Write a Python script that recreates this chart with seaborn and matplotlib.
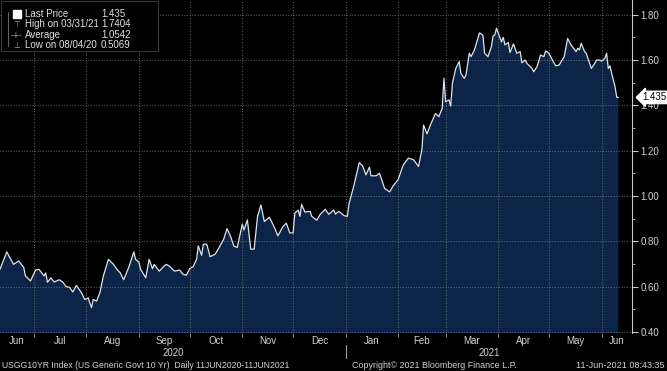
import pandas as pd
import matplotlib
matplotlib.use('Agg')
import matplotlib.pyplot as plt
import matplotlib.dates as mdates
import matplotlib.transforms as mtransforms
from matplotlib.patches import Rectangle
from matplotlib.ticker import MultipleLocator, FixedLocator, NullFormatter
import seaborn as sns

dates = [
    '2020-06-11', '2020-06-15', '2020-06-19', '2020-06-22', '2020-06-25', '2020-06-26', '2020-06-29',
    '2020-07-02', '2020-07-04', '2020-07-07', '2020-07-08', '2020-07-09', '2020-07-11', '2020-07-13',
    '2020-07-16', '2020-07-18', '2020-07-20', '2020-07-22', '2020-07-24', '2020-07-26', '2020-07-29',
    '2020-07-31', '2020-08-02', '2020-08-04', '2020-08-05', '2020-08-07', '2020-08-09', '2020-08-11',
    '2020-08-14', '2020-08-17', '2020-08-19', '2020-08-21', '2020-08-23', '2020-08-26', '2020-08-29',
    '2020-08-30', '2020-09-01', '2020-09-02', '2020-09-05', '2020-09-07', '2020-09-09', '2020-09-10',
    '2020-09-13', '2020-09-15', '2020-09-17', '2020-09-19', '2020-09-22', '2020-09-25', '2020-09-27',
    '2020-09-29', '2020-10-01', '2020-10-03', '2020-10-05', '2020-10-06', '2020-10-08', '2020-10-09',
    '2020-10-11', '2020-10-13', '2020-10-16', '2020-10-18', '2020-10-21', '2020-10-23', '2020-10-25',
    '2020-10-27', '2020-10-29', '2020-11-01', '2020-11-02', '2020-11-04', '2020-11-06', '2020-11-08',
    '2020-11-10', '2020-11-12', '2020-11-14', '2020-11-17', '2020-11-20', '2020-11-22', '2020-11-25',
    '2020-11-27', '2020-11-29', '2020-12-01', '2020-12-02', '2020-12-04', '2020-12-05', '2020-12-06',
    '2020-12-08', '2020-12-11', '2020-12-12', '2020-12-15', '2020-12-17', '2020-12-20', '2020-12-22',
    '2020-12-25', '2020-12-26', '2020-12-28', '2020-12-31', '2021-01-02', '2021-01-03', '2021-01-06',
    '2021-01-09', '2021-01-11', '2021-01-13', '2021-01-15', '2021-01-16', '2021-01-19', '2021-01-21',
    '2021-01-24', '2021-01-27', '2021-01-29', '2021-02-01', '2021-02-04', '2021-02-07', '2021-02-10',
    '2021-02-13', '2021-02-15', '2021-02-16', '2021-02-18', '2021-02-20', '2021-02-23', '2021-02-25',
    '2021-02-27', '2021-02-28', '2021-03-01', '2021-03-03', '2021-03-04', '2021-03-05', '2021-03-07',
    '2021-03-09', '2021-03-10', '2021-03-12', '2021-03-13', '2021-03-15', '2021-03-16', '2021-03-18',
    '2021-03-21', '2021-03-23', '2021-03-24', '2021-03-26', '2021-03-28', '2021-03-29', '2021-03-30',
    '2021-03-31', '2021-04-03', '2021-04-04', '2021-04-05', '2021-04-07', '2021-04-08', '2021-04-10',
    '2021-04-12', '2021-04-14', '2021-04-15', '2021-04-17', '2021-04-18', '2021-04-21', '2021-04-22',
    '2021-04-24', '2021-04-26', '2021-04-28', '2021-04-29', '2021-05-01', '2021-05-03', '2021-05-05',
    '2021-05-07', '2021-05-10', '2021-05-12', '2021-05-14', '2021-05-17', '2021-05-18', '2021-05-19',
    '2021-05-20', '2021-05-22', '2021-05-23', '2021-05-26', '2021-05-28', '2021-05-29', '2021-05-31',
    '2021-06-01', '2021-06-03', '2021-06-04', '2021-06-05', '2021-06-06', '2021-06-07', '2021-06-09',
    '2021-06-10', '2021-06-11',
]
yields = [
    0.676, 0.753, 0.698, 0.713, 0.685, 0.647, 0.625,
    0.673, 0.676, 0.647, 0.660, 0.619, 0.638, 0.620,
    0.630, 0.620, 0.600, 0.597, 0.576, 0.605, 0.574,
    0.543, 0.550, 0.5069, 0.543, 0.536, 0.574, 0.647,
    0.720, 0.698, 0.676, 0.660, 0.630, 0.685, 0.753,
    0.720, 0.707, 0.676, 0.639, 0.720, 0.679, 0.698,
    0.668, 0.684, 0.698, 0.690, 0.668, 0.673, 0.654,
    0.650, 0.679, 0.688, 0.720, 0.780, 0.738, 0.787,
    0.787, 0.732, 0.743, 0.768, 0.809, 0.856, 0.823,
    0.779, 0.772, 0.875, 0.850, 0.894, 0.765, 0.765,
    0.910, 0.960, 0.887, 0.906, 0.860, 0.824, 0.865,
    0.880, 0.837, 0.837, 0.925, 0.937, 0.910, 0.963,
    0.929, 0.932, 0.910, 0.893, 0.919, 0.941, 0.919,
    0.938, 0.920, 0.932, 0.913, 0.910, 0.966, 1.050,
    1.147, 1.133, 1.093, 1.127, 1.089, 1.089, 1.100,
    1.033, 1.018, 1.044, 1.073, 1.137, 1.167, 1.160,
    1.130, 1.205, 1.313, 1.274, 1.313, 1.364, 1.350,
    1.387, 1.520, 1.416, 1.424, 1.397, 1.497, 1.563,
    1.593, 1.541, 1.519, 1.534, 1.630, 1.615, 1.644,
    1.720, 1.710, 1.630, 1.615, 1.659, 1.706, 1.710,
    1.7404, 1.680, 1.700, 1.667, 1.677, 1.633, 1.671,
    1.630, 1.637, 1.588, 1.600, 1.585, 1.563, 1.548,
    1.571, 1.622, 1.615, 1.640, 1.630, 1.600, 1.574,
    1.578, 1.615, 1.695, 1.667, 1.637, 1.652, 1.645,
    1.674, 1.637, 1.630, 1.563, 1.585, 1.600, 1.600,
    1.595, 1.607, 1.630, 1.563, 1.574, 1.541, 1.482,
    1.435, 1.435,
]

month_labels = ['Jun', 'Jul', 'Aug', 'Sep', 'Oct', 'Nov', 'Dec',
                'Jan', 'Feb', 'Mar', 'Apr', 'May', 'Jun']
year_labels = ['2020', '2021']
legend_names = ['Last Price', 'High on 03/31/21', 'Average', 'Low on 08/04/20']
legend_values = ['1.435', '1.7404', '1.0542', '0.5069']
last_price = 1.435
footer_left = 'USGG10YR Index (US Generic Govt 10 Yr)  Daily 11JUN2020-11JUN2021'
footer_mid = 'Copyright\u00a9 2021 Bloomberg Finance L.P.'
footer_right = '11-Jun-2021 08:43:35'

df = pd.DataFrame({'date': pd.to_datetime(dates), 'yield': yields})

x_start = pd.Timestamp('2020-06-11')
x_end = pd.Timestamp('2021-06-19')
txt = '#d2d2d2'
navy = '#0c2447'

sns.set_style('dark', {'axes.facecolor': 'black', 'figure.facecolor': 'black'})
plt.rcParams['font.family'] = ['Liberation Sans', 'DejaVu Sans']

fig = plt.figure(figsize=(6.67, 3.71), dpi=100, facecolor='black')
ax = fig.add_axes([0.0, 1 - 333 / 371, 632 / 667, 333 / 371])
ax.set_facecolor('black')

ax.fill_between(df['date'], df['yield'], 0, color=navy, linewidth=0, zorder=1)
sns.lineplot(data=df, x='date', y='yield', ax=ax, color='#dde3ea', linewidth=0.9, zorder=3)

ax.set_xlim(x_start, x_end)
ax.set_ylim(0.395, 1.865)
ax.set_xlabel('')
ax.set_ylabel('')

# y axis on the right
ax.yaxis.tick_right()
ax.yaxis.set_major_locator(MultipleLocator(0.2))
ax.yaxis.set_minor_locator(MultipleLocator(0.1))
ax.yaxis.set_major_formatter(matplotlib.ticker.FormatStrFormatter('%.2f'))
ax.tick_params(axis='y', which='major', colors='#c8c8c8', labelcolor=txt, labelsize=7,
               length=4, width=0.8, pad=2, right=True, left=False)
ax.tick_params(axis='y', which='minor', colors='#c8c8c8', length=2, width=0.6, right=True, left=False)

# x axis: gridlines / ticks at month starts, labels centred in each month
ax.xaxis.set_major_locator(mdates.MonthLocator(bymonthday=1))
ax.xaxis.set_major_formatter(NullFormatter())
month_starts = pd.date_range('2020-06-01', '2021-07-01', freq='MS')
centers = []
for s, e in zip(month_starts[:-1], month_starts[1:]):
    a, b = max(s, x_start), min(e, x_end)
    centers.append(a + (b - a) / 2)
ax.xaxis.set_minor_locator(FixedLocator(mdates.date2num(centers)))
ax.xaxis.set_minor_formatter(matplotlib.ticker.FixedFormatter(month_labels))
ax.tick_params(axis='x', which='major', colors='#9a9a9a', length=3, width=0.6, bottom=True)
ax.tick_params(axis='x', which='minor', length=0, labelsize=7, labelcolor=txt, pad=2.5, bottom=True)

ax.grid(True, which='major', color='#8a8a8a', linestyle=(0, (1, 2.2)), linewidth=0.6)
ax.grid(False, which='minor')
ax.set_axisbelow(False)

for side in ['left', 'top', 'bottom']:
    ax.spines[side].set_visible(False)
ax.spines['right'].set_color('#c8c8c8')
ax.spines['right'].set_linewidth(0.8)

# year labels and separator
trans = mtransforms.blended_transform_factory(ax.transData, ax.transAxes)
year_break = pd.Timestamp('2021-01-01')
year_spans = [(x_start, year_break), (year_break, x_end)]
for lab, (a, b) in zip(year_labels, year_spans):
    ax.text(a + (b - a) / 2, -0.06, lab, transform=trans, ha='center', va='center',
            fontsize=7, color=txt)
ax.plot([year_break, year_break], [-0.036, -0.075], transform=trans, color='#9a9a9a',
        linewidth=0.8, clip_on=False)

# last price tag
trans_y = mtransforms.blended_transform_factory(ax.transAxes, ax.transData)
ax.text(1.017, last_price, legend_values[0], transform=trans_y, ha='left', va='center',
        fontsize=7, color='black',
        bbox=dict(boxstyle='larrow,pad=0.12', fc='white', ec='white'))

# legend box top-left
fig.patches.append(Rectangle((0.002, 1 - 51 / 371), 157 / 667, 50 / 371, transform=fig.transFigure,
                             facecolor='black', edgecolor='#444444', linewidth=0.6, zorder=5))
row_y = [14, 24, 35, 45]
symbols = ['', '\u22a4', '-+-', '\u22a5']
fig.patches.append(Rectangle((13 / 667, 1 - 18 / 371), 8 / 667, 8 / 371, transform=fig.transFigure,
                             facecolor='white', edgecolor='white', zorder=6))
fig.add_artist(plt.Line2D([8 / 667, 8 / 667], [1 - 12 / 371, 1 - 46 / 371], transform=fig.transFigure,
                          color='#777777', linewidth=0.6, zorder=6))
for yy, sym, name, val in zip(row_y, symbols, legend_names, legend_values):
    fy = 1 - yy / 371
    if sym:
        fig.text(17 / 667, fy, sym, ha='center', va='center', fontsize=5.5, color='#aaaaaa',
                 family=['DejaVu Sans'], zorder=7)
    fig.text(25 / 667, fy, name, ha='left', va='center', fontsize=7, color='#e0e0e0', zorder=7)
    fig.text(101 / 667, fy, val, ha='left', va='center', fontsize=7, color='#e0e0e0', zorder=7)

# footer
fy = 1 - 365 / 371
fig.text(2 / 667, fy, footer_left, ha='left', va='center', fontsize=6.25, color=txt)
fig.text(352 / 667, fy, footer_mid, ha='left', va='center', fontsize=6.4, color=txt)
fig.text(665 / 667, fy, footer_right, ha='right', va='center', fontsize=6.6, color=txt)

fig.savefig('out.png', dpi=100, facecolor='black')
